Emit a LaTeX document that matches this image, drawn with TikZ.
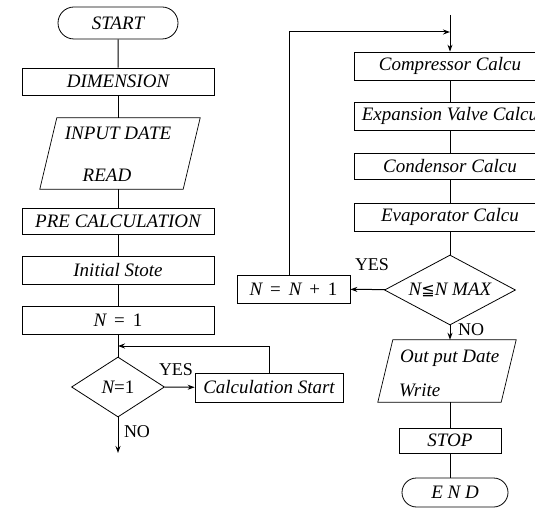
\documentclass[tikz,border=0pt]{standalone}
\usepackage{fontspec}
\setmainfont{Liberation Serif}
\newfontfamily\symfnt{DejaVu Sans}
\usetikzlibrary{shapes.geometric,shapes.misc,arrows.meta}
\begin{document}
\begin{tikzpicture}[x=1pt,y=-1pt,
  every node/.style={font=\fontsize{19}{22}\selectfont\itshape, inner sep=0pt},
  box/.style={draw, line width=0.7pt, minimum height=28pt},
  term/.style={draw, rounded rectangle, line width=0.8pt},
  dia/.style={draw, diamond, line width=0.8pt},
  lbl/.style={font=\fontsize{18}{20}\selectfont\upshape},
  link/.style={line width=1pt},
  arr/.style={link, -{Stealth[length=7pt,width=5pt]}},
  para/.style={line width=0.7pt}
]
\useasboundingbox (0,0) rectangle (535,510);
\clip (0,0) rectangle (535,510);

% ---------------- left column ----------------
\node[term, minimum width=120pt, minimum height=32pt] (start) at (118,23) {START};
\node[box, minimum width=192pt, minimum height=27pt] (dim) at (118,81.5) {DIMENSION};
\node[minimum width=143pt, minimum height=71pt] (input) at (120,153.5) {};
\draw[para] ([xshift=8.5pt]input.north west) -- ([xshift=8.5pt]input.north east)
  -- ([xshift=-8.5pt]input.south east) -- ([xshift=-8.5pt]input.south west) -- cycle;
\node (inputt) at (118,133) {INPUT DATE};
\node (read) at (107,175) {READ};
\node[box, minimum width=192pt, minimum height=26pt] (pre) at (118,221) {PRE CALCULATION};
\node[box, minimum width=192pt] (init) at (118,270) {Initial Stote};
\node[box, minimum width=192pt] (n1) at (118,320) {N \,\upshape=\, 1};
\coordinate (loop) at (118,346);
\node[dia, minimum width=93pt, minimum height=60pt, shape aspect=1.55] (d1) at (118,387) {N\upshape=1};
\node[box, minimum width=148pt, minimum height=29pt] (calc) at (269,387.5) {Calculation Start};
\coordinate (noend) at (118,453);
\node[lbl] (yes1) at (176,370) {YES};
\node[lbl] (no1) at (137,432) {NO};

\draw[link] (start) -- (dim);
\draw[link] (dim) -- (dim.south |- input.north);
\draw[link] (pre.north |- input.south) -- (pre);
\draw[link] (pre) -- (init);
\draw[link] (init) -- (n1);
\draw[link] (n1) -- (d1);
\draw[arr] (calc.north) |- (loop);
\draw[arr] (d1) -- (calc);
\draw[arr] (d1) -- (noend);

% ---------------- right column ----------------
\coordinate (rtop) at (450,15);
\coordinate (fbtop) at (289,32);
\coordinate (join) at (450,32);
\node[box, minimum width=192pt] (comp) at (450,66) {Compressor Calcu};
\node[box, minimum width=192pt] (exp) at (450,116) {Expansion Valve Calcu};
\node[box, minimum width=192pt, minimum height=26pt] (cond) at (450,166) {Condensor Calcu};
\node[box, minimum width=192pt] (evap) at (450,217) {Evaporator Calcu};
\node[dia, minimum width=131pt, minimum height=70pt, shape aspect=1.87] (d2) at (450,290) {N{\upshape\symfnt\fontsize{16}{18}\selectfont ≦}N MAX};
\node[box, minimum width=113pt] (nn1) at (293.5,289) {N \,\upshape=\, \itshape N \,\upshape+\, 1};
\node[lbl] (yes2) at (372,265) {YES};
\node[lbl] (no2) at (471,330) {NO};
\node[minimum width=123pt, minimum height=62pt] (out) at (447,371) {};
\draw[para] ([xshift=7.5pt]out.north west) -- ([xshift=7.5pt]out.north east)
  -- ([xshift=-7.5pt]out.south east) -- ([xshift=-7.5pt]out.south west) -- cycle;
\node[anchor=west] (outt) at (400,358) {Out put Date};
\node[anchor=west] (write) at (399,390) {Write};
\node[box, minimum width=102pt, minimum height=25pt] (stop) at (450,440.5) {STOP};
\node[term, minimum width=106pt, minimum height=29pt] (end) at (455,492.5) {E N D};

\draw[arr] (rtop) -- (comp);
\draw[link] (comp) -- (exp);
\draw[link] (exp) -- (cond);
\draw[link] (cond) -- (evap);
\draw[link] (evap) -- (d2);
\draw[arr] (d2) -- (nn1);
\draw[arr] (nn1.north -| fbtop) -- (fbtop) -- (join);
\draw[arr] (d2.south) -- (d2.south |- out.north);
\draw[link] (stop.north |- out.south) -- (stop);
\draw[link] (stop) -- (stop.south |- end.north);
\end{tikzpicture}
\end{document}
